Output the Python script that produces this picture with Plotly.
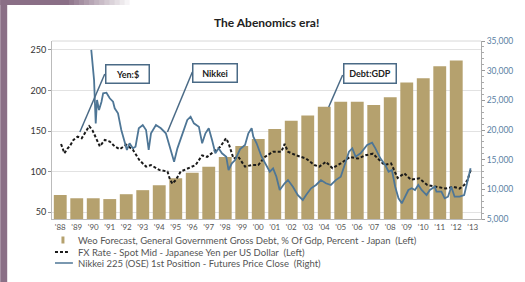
import plotly.graph_objects as go

# ---------------- data ----------------
debt_years = list(range(1988, 2013))
debt_pct = [71, 67, 67, 66, 72, 77, 83, 91.6, 98.6, 106, 118, 131.5, 140,
            152.5, 162.8, 169, 180, 186, 186, 182, 191.6, 210, 215, 230, 237]

fx_t = [1988.55, 1988.75, 1988.95, 1989.1, 1989.3, 1989.55, 1989.8, 1990.05, 1990.25, 1990.45,
        1990.7, 1990.9, 1991.2, 1991.5, 1991.8, 1992.1, 1992.5, 1992.9, 1993.3, 1993.7,
        1994.0, 1994.5, 1995.0, 1995.15, 1995.3, 1995.5, 1995.8, 1996.2, 1996.7, 1997.1,
        1997.4, 1997.8, 1998.2, 1998.55, 1998.7, 1999.0, 1999.3, 1999.7, 2000.1, 2000.5,
        2000.9, 2001.4, 2001.9, 2002.1, 2002.3, 2002.8, 2003.4, 2003.9, 2004.2, 2004.6,
        2005.0, 2005.5, 2006.05, 2006.55, 2007.0, 2007.45, 2007.85, 2008.15, 2008.55, 2008.95,
        2009.35, 2009.75, 2010.25, 2010.75, 2011.35, 2011.85, 2012.35, 2012.7, 2012.98, 2013.18,
        2013.38]
fx_yen = [134, 122.5, 128.6, 132, 139, 143, 141, 149, 156, 151,
          139, 131, 139, 137, 131, 127.5, 133, 127, 114, 106,
          108, 102, 100, 90, 85, 89.5, 100, 104, 108, 120,
          118, 124.5, 130.6, 141, 135, 116, 118, 106, 108, 108,
          118, 124.5, 124.5, 134, 124.5, 120, 116, 108, 106, 112,
          104, 110, 118, 116, 120, 122, 114, 108, 110, 92,
          97.7, 90, 91.6, 83.3, 81, 79, 81, 79, 83.3, 89.5,
          102]

nk_t = [1990.38, 1990.55, 1990.65, 1990.73, 1990.85, 1991.0, 1991.1, 1991.3, 1991.5, 1991.7,
        1991.8, 1992.0, 1992.2, 1992.4, 1992.54, 1992.7, 1992.9, 1993.06, 1993.26, 1993.5,
        1993.7, 1993.86, 1994.0, 1994.3, 1994.6, 1994.9, 1995.2, 1995.4, 1995.6, 1995.9,
        1996.2, 1996.4, 1996.6, 1996.9, 1997.1, 1997.3, 1997.5, 1997.7, 1997.9, 1998.1,
        1998.3, 1998.56, 1998.7, 1998.9, 1999.1, 1999.4, 1999.7, 1999.9, 2000.1, 2000.2,
        2000.4, 2000.7, 2001.0, 2001.2, 2001.4, 2001.6, 2001.8, 2002.1, 2002.3, 2002.6,
        2002.9, 2003.2, 2003.4, 2003.7, 2004.0, 2004.3, 2004.6, 2004.9, 2005.2, 2005.5,
        2005.8, 2006.0, 2006.2, 2006.4, 2006.7, 2007.1, 2007.4, 2007.6, 2007.9, 2008.2,
        2008.4, 2008.6, 2008.8, 2009.0, 2009.2, 2009.4, 2009.6, 2009.8, 2010.0, 2010.2,
        2010.4, 2010.7, 2010.9, 2011.2, 2011.3, 2011.6, 2011.8, 2012.0, 2012.2, 2012.4,
        2012.7, 2012.98, 2013.17, 2013.37]
nk_close = [33500, 28400, 21100, 25060, 23370, 24770, 26180, 26290, 25340, 24770,
            23650, 22810, 20000, 18030, 16630, 17760, 16910, 17180, 20290, 20840,
            20000, 16630, 19440, 20840, 20290, 19440, 16350, 14660, 16910, 19160,
            21690, 22240, 21130, 20560, 17760, 19440, 20290, 18310, 16070, 16910,
            16070, 15500, 13260, 14380, 14940, 16790, 17470, 19440, 20290, 18870,
            17760, 15500, 14100, 12970, 13540, 12130, 9890, 11020, 11560, 10440,
            9030, 8200, 9030, 10170, 10730, 11560, 11020, 10730, 11560, 12130,
            14660, 16350, 16910, 15500, 16070, 17470, 17860, 16910, 15220, 14100,
            12970, 13260, 10440, 8490, 7640, 8760, 9890, 10170, 9890, 10730,
            9890, 9030, 9890, 10440, 9600, 9600, 8490, 8760, 10440, 8760,
            8760, 9030, 11290, 13540]

tick_years = list(range(1988, 2014))
tick_labels = ["'" + str(y)[2:] for y in tick_years]

left_ticks = [50, 100, 150, 200, 250]
right_ticks = [5000, 10000, 15000, 20000, 25000, 30000, 35000]

series_names = [
    "Weo Forecast, General Government Gross Debt, % Of Gdp, Percent - Japan  (Left)",
    "FX Rate - Spot Mid - Japanese Yen per US Dollar  (Left)",
    "Nikkei 225 (OSE) 1st Position - Futures Price Close  (Right)",
]

# ---------------- layout geometry ----------------
W, H = 525, 282
L, R, T, B = 52, 42, 41, 63
PW, PH = W - L - R, H - T - B


def px(x):
    return (x - L) / PW


def py(y):
    return (H - B - y) / PH


FONT = "Lato, 'Open Sans', sans-serif"
BAR_C = "#B5A16E"
NK_C = "#4E7696"
BOX_C = "#4A6A86"
FX_DASH = "3px,2px"

fig = go.Figure()
fig.add_trace(go.Bar(
    x=[y + 0.5 for y in debt_years], y=debt_pct, width=0.78,
    marker=dict(color=BAR_C, line=dict(width=0)), name=series_names[0],
))
fig.add_trace(go.Scatter(
    x=fx_t, y=fx_yen, mode="lines",
    line=dict(color="#1a1a1a", width=2, dash=FX_DASH), name=series_names[1],
))
fig.add_trace(go.Scatter(
    x=nk_t, y=nk_close, mode="lines", yaxis="y2",
    line=dict(color=NK_C, width=1.8), name=series_names[2],
))

shapes = []
# purple frame
shapes.append(dict(type="rect", xref="paper", yref="paper", x0=px(0), x1=px(7), y0=py(H), y1=py(0),
                   fillcolor="#8A6F86", line=dict(width=0), layer="below"))
shapes.append(dict(type="rect", xref="paper", yref="paper", x0=px(0), x1=px(70), y0=py(5), y1=py(0),
                   fillcolor="#8A6F86", line=dict(width=0), layer="below"))
steps = 12
for i in range(steps):
    x0 = 70 + i * 5
    shapes.append(dict(type="rect", xref="paper", yref="paper", x0=px(x0), x1=px(x0 + 5),
                       y0=py(5), y1=py(0), fillcolor="#8A6F86",
                       opacity=1 - (i + 1) / (steps + 1), line=dict(width=0), layer="below"))
# top border of plot area
shapes.append(dict(type="line", xref="paper", yref="paper", x0=0, x1=1, y0=1, y1=1,
                   line=dict(color="#d8d8d8", width=1)))
# callout connectors
for (xa, ya, xb, yb) in [(105, 74, 80, 132), (193, 72, 168, 132), (344, 75, 330, 107)]:
    shapes.append(dict(type="line", xref="paper", yref="paper", x0=px(xa), y0=py(ya),
                       x1=px(xb), y1=py(yb), line=dict(color=BOX_C, width=1.5)))

# manual legend (symbols)
rows = [240, 252, 263]
shapes.append(dict(type="rect", xref="paper", yref="paper", x0=px(61.5), x1=px(64.5),
                   y0=py(rows[0] + 3.5), y1=py(rows[0] - 3.5), fillcolor=BAR_C, line=dict(width=0)))
shapes.append(dict(type="line", xref="paper", yref="paper", x0=px(55), x1=px(68),
                   y0=py(rows[1]), y1=py(rows[1]), line=dict(color="#1a1a1a", width=2, dash=FX_DASH)))
shapes.append(dict(type="line", xref="paper", yref="paper", x0=px(55), x1=px(73),
                   y0=py(rows[2]), y1=py(rows[2]), line=dict(color=NK_C, width=1.5)))

annotations = [
    dict(text="<b>The Abenomics era!</b>", xref="paper", yref="paper", x=px(267), y=py(23),
         showarrow=False, font=dict(family=FONT, size=12, color="#222"), xanchor="center", yanchor="middle"),
]
for name, ry in zip(series_names, rows):
    annotations.append(dict(text=name, xref="paper", yref="paper", x=px(76), y=py(ry),
                            xanchor="left", yanchor="middle", showarrow=False,
                            font=dict(family=FONT, size=9.5, color="#555")))
for (txt, x0, x1, y0, y1) in [("Yen:$", 105, 150, 64, 84), ("Nikkei", 193, 239, 63, 83),
                               ("Debt:GDP", 344, 398, 63, 84)]:
    annotations.append(dict(
        text="<b>" + txt + "</b>", xref="paper", yref="paper",
        x=px((x0 + x1) / 2), y=py((y0 + y1) / 2), xanchor="center", yanchor="middle",
        showarrow=False, width=x1 - x0 - 6, height=y1 - y0 - 6, borderpad=1.5,
        bordercolor=BOX_C, borderwidth=1.5, bgcolor="white",
        font=dict(family=FONT, size=9, color="#222")))

fig.update_layout(
    width=W, height=H,
    margin=dict(l=L, r=R, t=T, b=B, pad=0),
    paper_bgcolor="white", plot_bgcolor="white",
    font=dict(family=FONT, size=9, color="#444"),
    showlegend=False,
    xaxis=dict(range=[1988, 2014], tickvals=[y + 0.5 for y in tick_years], ticktext=tick_labels,
               showgrid=False, zeroline=False, showline=True, linecolor="#bbb", linewidth=1,
               ticks="", tickfont=dict(family=FONT, size=8, color="#555")),
    yaxis=dict(range=[41.4, 261.1], tickvals=left_ticks, showgrid=True, gridcolor="#e2e2e2",
               zeroline=False, showline=True, linecolor="#bbb", ticks="outside", ticklen=3,
               tickcolor="#999", tickfont=dict(family=FONT, size=9, color="#333")),
    yaxis2=dict(range=[5000, 35000], tickvals=right_ticks, tickformat=",", overlaying="y",
                side="right", showgrid=False, zeroline=False, showline=True, linecolor="#aaa",
                ticks="outside", ticklen=3, tickcolor="#999",
                minor=dict(ticks="outside", ticklen=2, dtick=1000, tickcolor="#aaa"),
                tickfont=dict(family=FONT, size=8.5, color="#5B7FA3")),
    shapes=shapes, annotations=annotations,
    bargap=0.2,
)

fig.write_html("out.html", config={"displayModeBar": False},
               post_script="document.body.style.margin='0';document.body.style.overflow='hidden';")
